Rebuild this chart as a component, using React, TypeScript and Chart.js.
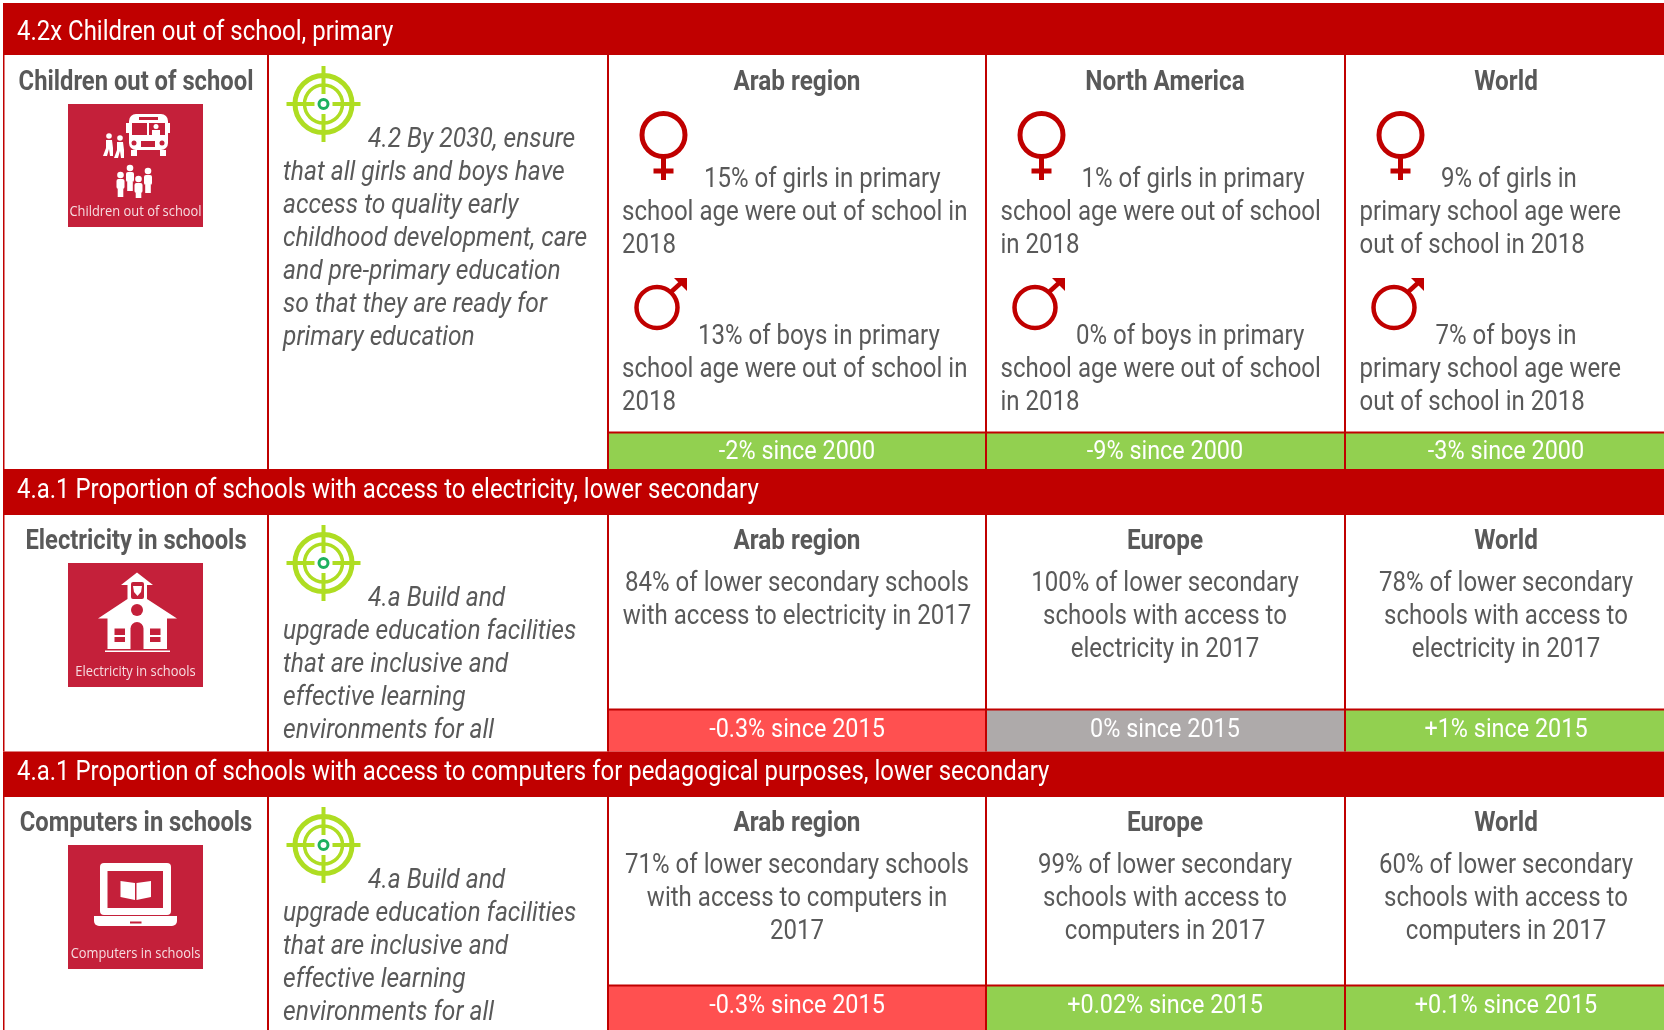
import React, { useEffect, useRef } from "react";
import { Chart, registerables } from "chart.js";

Chart.register(...registerables);

// ---------- data ----------
const sectionTitles = [
  "4.2x Children out of school, primary",
  "4.a.1 Proportion of schools with access to electricity, lower secondary",
  "4.a.1 Proportion of schools with access to computers for pedagogical purposes, lower secondary",
];
const indicatorNames = ["Children out of school", "Electricity in schools", "Computers in schools"];
const tileCaptions = ["Children out of school", "Electricity in schools", "Computers in schools"];
const targetLines = [
  ["4.2 By 2030, ensure", "that all girls and boys have", "access to quality early", "childhood development, care", "and pre-primary education", "so that they are ready for", "primary education"],
  ["4.a Build and", "upgrade education facilities", "that are inclusive and", "effective learning", "environments for all"],
  ["4.a Build and", "upgrade education facilities", "that are inclusive and", "effective learning", "environments for all"],
];
const regionNames = [
  ["Arab region", "North America", "World"],
  ["Arab region", "Europe", "World"],
  ["Arab region", "Europe", "World"],
];
const girlsLines = [
  ["15% of girls in primary", "school age were out of school in", "2018"],
  ["1% of girls in primary", "school age were out of school", "in 2018"],
  ["9% of girls in", "primary school age were", "out of school in 2018"],
];
const boysLines = [
  ["13% of boys in primary", "school age were out of school in", "2018"],
  ["0% of boys in primary", "school age were out of school", "in 2018"],
  ["7% of boys in", "primary school age were", "out of school in 2018"],
];
const electricityLines = [
  ["84% of lower secondary schools", "with access to electricity in 2017"],
  ["100% of lower secondary", "schools with access to", "electricity in 2017"],
  ["78% of lower secondary", "schools with access to", "electricity in 2017"],
];
const computerLines = [
  ["71% of lower secondary schools", "with access to computers in", "2017"],
  ["99% of lower secondary", "schools with access to", "computers in 2017"],
  ["60% of lower secondary", "schools with access to", "computers in 2017"],
];
const changeLabels = [
  ["-2% since 2000", "-9% since 2000", "-3% since 2000"],
  ["-0.3% since 2015", "0% since 2015", "+1% since 2015"],
  ["-0.3% since 2015", "+0.02% since 2015", "+0.1% since 2015"],
];
const changeKinds = [
  ["good", "good", "good"],
  ["bad", "flat", "good"],
  ["bad", "good", "good"],
];

// ---------- layout and style ----------
const W = 1664;
const H = 1030;
const RED = "#C00000";
const TILE = "#C4203A";
const GREY = "#595959";
const LIME = "#AEDD22";
const KIND_COLOR: Record<string, string> = { good: "#92D050", bad: "#FF5050", flat: "#AEAAAA" };
const COL = [4, 268, 608, 986, 1345, 1664];
const BANNERS = [[3, 55], [469, 515], [751.5, 797]];
const CHANGE_TOP = [433, 710, 986];
const CHANGE_BOTTOM = [469, 751.5, 1030];
const ROW_END = [469, 751.5, 1030];
const REGION_CX = [797, 1165, 1506];
const TILE_Y = [[104, 227], [563, 687], [845, 969]];
const SANS = "Roboto, sans-serif";
const FIT_TITLE = 0.887;
const FIT_BODY = 0.89;
const FIT_ITALIC = 0.91;
const FIT_NAME = 0.88;
const FIT_REGION = 0.9;
const FIT_CHANGE = 0.9;

function rowBars() {
  const sets: any[] = [];
  BANNERS.forEach(([a, b]) => {
    sets.push({ data: [{ x: (3 + W) / 2, y: [a, b] }], barThickness: W - 3, backgroundColor: RED });
  });
  changeKinds.forEach((kinds, r) => {
    kinds.forEach((kind, c) => {
      const l = COL[c + 2];
      const h = COL[c + 3];
      sets.push({
        data: [{ x: (l + h) / 2, y: [CHANGE_TOP[r], CHANGE_BOTTOM[r]] }],
        barThickness: h - l,
        backgroundColor: KIND_COLOR[kind],
      });
    });
  });
  TILE_Y.forEach(([a, b]) => {
    sets.push({ data: [{ x: 135.5, y: [a, b] }], barThickness: 135, backgroundColor: TILE });
  });
  return sets;
}

const tablePlugin = {
  id: "table",
  afterDatasetsDraw(chart: any) {
    const ctx: CanvasRenderingContext2D = chart.ctx;
    const X = (v: number) => chart.scales.x.getPixelForValue(v);
    const Y = (v: number) => chart.scales.y.getPixelForValue(v);

    const text = (s: string, x: number, y: number, font: string, color: string, align: CanvasTextAlign, fit: number) => {
      ctx.font = font;
      ctx.fillStyle = color;
      ctx.textAlign = align;
      ctx.textBaseline = "alphabetic";
      ctx.fillText(s, X(x), Y(y), ctx.measureText(s).width * fit);
    };
    const rect = (x0: number, y0: number, x1: number, y1: number, color: string) => {
      ctx.fillStyle = color;
      ctx.fillRect(X(x0), Y(y0), X(x1) - X(x0), Y(y1) - Y(y0));
    };
    const disc = (x: number, y: number, r: number, color: string) => {
      ctx.fillStyle = color;
      ctx.beginPath();
      ctx.arc(X(x), Y(y), r, 0, Math.PI * 2);
      ctx.fill();
    };
    const ring = (x: number, y: number, r: number, w: number, color: string) => {
      ctx.strokeStyle = color;
      ctx.lineWidth = w;
      ctx.beginPath();
      ctx.arc(X(x), Y(y), r, 0, Math.PI * 2);
      ctx.stroke();
    };
    const poly = (pts: number[][], color: string) => {
      ctx.fillStyle = color;
      ctx.beginPath();
      pts.forEach(([x, y], i) => (i ? ctx.lineTo(X(x), Y(y)) : ctx.moveTo(X(x), Y(y))));
      ctx.closePath();
      ctx.fill();
    };
    const round = (x0: number, y0: number, x1: number, y1: number, r: number, color: string) => {
      ctx.fillStyle = color;
      ctx.beginPath();
      ctx.roundRect(X(x0), Y(y0), x1 - x0, y1 - y0, r);
      ctx.fill();
    };

    // grid lines
    const rowStart = BANNERS.map((b) => b[1]);
    rowStart.forEach((top, r) => {
      COL.slice(0, 5).forEach((x, i) => {
        rect(x - 1, top, x + (i === 0 ? 0.5 : 1), ROW_END[r], RED);
      });
      rect(COL[2], CHANGE_TOP[r] - 1.5, W, CHANGE_TOP[r] + 0.5, RED);
    });

    // banners
    sectionTitles.forEach((s, i) => {
      text(s, 17, [40, 498, 780][i], `27px ${SANS}`, "#FFFFFF", "left", FIT_TITLE);
    });

    // first two columns
    indicatorNames.forEach((s, i) => {
      text(s, 136, [90, 549, 831][i], `bold 27px ${SANS}`, GREY, "center", FIT_NAME);
    });
    tileCaptions.forEach((s, i) => {
      text(s, 135.5, [216, 676, 958][i], `14px "Open Sans", sans-serif`, "#F6DDE1", "center", 0.92);
    });
    const targetY = [104, 563, 845];
    const targetBase = [147, 606, 888];
    targetLines.forEach((lines, r) => {
      const cx = 323.5;
      const cy = targetY[r];
      ring(cx, cy, 28.5, 5, LIME);
      ring(cx, cy, 19, 3.5, LIME);
      rect(cx - 37, cy - 2, cx - 9, cy + 2, LIME);
      rect(cx + 9, cy - 2, cx + 37, cy + 2, LIME);
      rect(cx - 2, cy - 38, cx + 2, cy - 10, LIME);
      rect(cx - 2, cy + 10, cx + 2, cy + 38, LIME);
      ring(cx, cy, 4.5, 3, "#1DB15F");
      lines.forEach((s, i) => {
        text(s, i === 0 ? 368 : 283, targetBase[r] + i * 33, `italic 27px ${SANS}`, GREY, "left", FIT_ITALIC);
      });
    });

    // region headings and texts
    const headBase = [90, 549, 831];
    regionNames.forEach((names, r) => {
      names.forEach((s, c) => {
        text(s, REGION_CX[c], headBase[r], `bold 27px ${SANS}`, GREY, "center", FIT_REGION);
      });
    });
    const FIRST_X = [704, 1081.5, 1441];
    const BOY_X = [698, 1076, 1435.5];
    const LEFT_X = [622, 1000.5, 1359.5];
    girlsLines.forEach((lines, c) => {
      lines.forEach((s, i) => {
        text(s, i === 0 ? FIRST_X[c] : LEFT_X[c], 187 + i * 33, `27px ${SANS}`, GREY, "left", FIT_BODY);
      });
    });
    boysLines.forEach((lines, c) => {
      lines.forEach((s, i) => {
        text(s, i === 0 ? BOY_X[c] : LEFT_X[c], 344 + i * 33, `27px ${SANS}`, GREY, "left", FIT_BODY);
      });
    });
    electricityLines.forEach((lines, c) => {
      lines.forEach((s, i) => text(s, REGION_CX[c], 591 + i * 33, `27px ${SANS}`, GREY, "center", FIT_BODY));
    });
    computerLines.forEach((lines, c) => {
      lines.forEach((s, i) => text(s, REGION_CX[c], 873 + i * 33, `27px ${SANS}`, GREY, "center", FIT_BODY));
    });

    // change strips
    const changeBase = [459, 736.5, 1013];
    changeLabels.forEach((labels, r) => {
      labels.forEach((s, c) => {
        text(s, REGION_CX[c], changeBase[r], `26px ${SANS}`, "#FFFFFF", "center", FIT_CHANGE);
      });
    });

    // gender symbols
    const GX = [0, 378, 737];
    GX.forEach((dx) => {
      ring(663.5 + dx, 135, 21.5, 5, RED);
      rect(661 + dx, 156, 666 + dx, 180, RED);
      rect(653.5 + dx, 168.5, 673.5 + dx, 173.5, RED);
      ring(657 + dx, 307.5, 20.5, 4.5, RED);
      ctx.strokeStyle = RED;
      ctx.lineWidth = 4.5;
      ctx.beginPath();
      ctx.moveTo(X(671 + dx), Y(292));
      ctx.lineTo(X(682 + dx), Y(282));
      ctx.stroke();
      poly([[674 + dx, 278], [687 + dx, 278], [687 + dx, 291]], RED);
    });

    // icon: bus and children
    const W2 = "#FFFFFF";
    round(129, 114, 168, 150, 7, W2);
    rect(126, 123, 129, 133, W2);
    rect(168, 123, 170, 133, W2);
    rect(132, 123, 147, 135, TILE);
    rect(149, 123, 165, 135, TILE);
    rect(139, 117, 158, 120, TILE);
    rect(131, 150, 137, 156, W2);
    rect(160, 150, 166, 156, W2);
    disc(134, 143, 2.5, TILE);
    disc(162, 143, 2.5, TILE);
    rect(141, 141, 155, 147, TILE);
    disc(156, 126.5, 2.5, W2);
    rect(152, 130, 160, 135, W2);
    [[109, 134], [120, 136]].forEach(([x, y]) => {
      disc(x, y + 2, 2.8, W2);
      poly([[x - 3, y + 6], [x + 3, y + 6], [x + 4, y + 14], [x + 4, y + 22], [x + 1, y + 22], [x, y + 15], [x - 2, y + 22], [x - 6, y + 22], [x - 3, y + 14]], W2);
    });
    [[120.5, 173, 197], [130, 166, 191], [138.5, 177, 198], [148, 169, 193]].forEach(([x, y0, y1]) => {
      disc(x, y0 + 2, 3.3, W2);
      round(x - 4, y0 + 6, x + 4, y0 + 16, 2, W2);
      rect(x - 2.8, y0 + 16, x + 2.8, y1, W2);
    });

    // icon: school house
    poly([[137, 572.5], [153, 585], [147, 585], [147, 599], [177, 618.5], [167, 618.5], [167, 649], [107.5, 649], [107.5, 618.5], [98, 618.5], [127.5, 599], [127.5, 585], [121, 585]], W2);
    rect(105, 650.5, 170, 652, W2);
    round(131, 582, 144, 599, 2, TILE);
    poly([[133, 586], [142, 586], [141, 592], [137.5, 596], [134, 592]], W2);
    disc(137, 610, 6, TILE);
    ctx.fillStyle = TILE;
    ctx.beginPath();
    ctx.roundRect(X(130.5), Y(622), 13, 27, [6.5, 6.5, 0, 0]);
    ctx.fill();
    rect(114.5, 628.5, 125, 635, TILE);
    rect(114.5, 637, 125, 642, TILE);
    rect(150, 628.5, 160.5, 635, TILE);
    rect(150, 637, 160.5, 642, TILE);

    // icon: laptop with book
    round(100, 863, 171, 915, 4, W2);
    rect(107.5, 871, 163, 908, TILE);
    ctx.fillStyle = W2;
    ctx.beginPath();
    ctx.roundRect(X(94), Y(916), 83, 10, [0, 0, 5, 5]);
    ctx.fill();
    rect(130, 921.5, 141.5, 923.5, TILE);
    poly([[120.5, 881], [135, 883], [135, 900], [120.5, 897]], W2);
    poly([[136.5, 883], [151, 881], [151, 897], [136.5, 900]], W2);
  },
};

export default function App() {
  const ref = useRef<HTMLCanvasElement | null>(null);
  useEffect(() => {
    document.body.style.margin = "0";
    document.body.style.background = "#FFFFFF";
    const chart = new Chart(ref.current as HTMLCanvasElement, {
      type: "bar",
      data: { datasets: rowBars() },
      plugins: [tablePlugin],
      options: {
        animation: false,
        responsive: false,
        maintainAspectRatio: false,
        layout: { padding: 0 },
        events: [],
        datasets: { bar: { grouped: false, inflateAmount: 0, borderWidth: 0 } as any },
        plugins: { legend: { display: false }, tooltip: { enabled: false }, title: { display: false } },
        scales: {
          x: { type: "linear", min: 0, max: W, display: false, offset: false },
          y: { type: "linear", min: 0, max: H, reverse: true, display: false },
        },
      },
    } as any);
    return () => chart.destroy();
  }, []);
  return (
    <div style={{ position: "absolute", left: 0, top: 0, width: W, height: H, background: "#FFFFFF" }}>
      <canvas ref={ref} width={W} height={H} style={{ display: "block", width: W, height: H }} />
    </div>
  );
}
